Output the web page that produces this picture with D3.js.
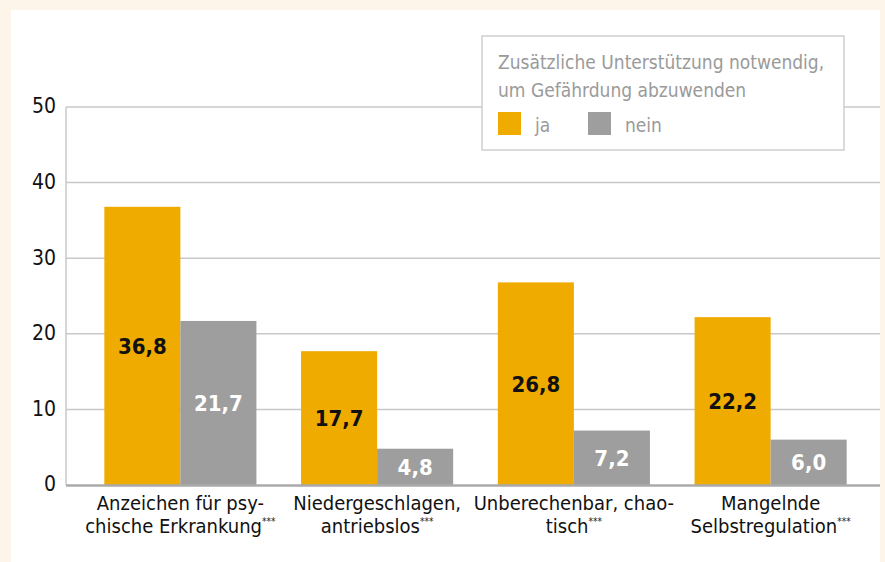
<!DOCTYPE html>
<html>
<head>
<meta charset="utf-8">
<script src="https://cdn.jsdelivr.net/npm/d3@7"></script>
<style>
  body { margin: 0; background: #fdf5e9; }
  svg text { font-family: "Liberation Sans Narrow", "DejaVu Sans Condensed", "Roboto", sans-serif; font-stretch: condensed; }
</style>
</head>
<body>
<div id="chart"></div>
<script>
// categories (each one split in two lines as in the print)
const categories = [
  ["Anzeichen für psy-", "chische Erkrankung"],
  ["Niedergeschlagen,", "antriebslos"],
  ["Unberechenbar, chao-", "tisch"],
  ["Mangelnde", "Selbstregulation"]
];
const series = ["ja", "nein"];
const valuesJa = [36.8, 17.7, 26.8, 22.2];
const valuesNein = [21.7, 4.8, 7.2, 6.0];
const yTicks = [0, 10, 20, 30, 40, 50];
const legendTitle = ["Zusätzliche Unterstützung notwendig,", "um Gefährdung abzuwenden"];

const colors = { ja: "#f0ab00", nein: "#9d9e9d" };

const W = 885, H = 562;
const svg = d3.select("#chart").append("svg")
  .attr("width", W).attr("height", H);

// white panel
svg.append("rect")
  .attr("x", 11).attr("y", 10)
  .attr("width", 869).attr("height", H - 10)
  .attr("fill", "#fff");

const y = d3.scaleLinear().domain([0, 50]).range([485, 107]);

const x0 = d3.scaleBand()
  .domain(d3.range(categories.length))
  .range([82, 869])
  .paddingInner(0.227)
  .paddingOuter(0.1135);

const x1 = d3.scaleBand()
  .domain(series)
  .range([0, x0.bandwidth()]);

// grid lines
svg.append("g")
  .selectAll("line")
  .data(yTicks.filter(d => d > 0))
  .enter().append("line")
  .attr("x1", 66).attr("x2", 880)
  .attr("y1", d => y(d)).attr("y2", d => y(d))
  .attr("stroke", "#c8c8c8")
  .attr("stroke-width", 1.5);

// y axis line
svg.append("line")
  .attr("x1", 66).attr("x2", 66)
  .attr("y1", y(50)).attr("y2", y(0))
  .attr("stroke", "#c8c8c8")
  .attr("stroke-width", 1.5);

// tick labels
svg.append("g")
  .selectAll("text")
  .data(yTicks)
  .enter().append("text")
  .attr("x", 56)
  .attr("y", d => y(d))
  .attr("dy", "0.3em")
  .attr("text-anchor", "end")
  .style("font-size", "21px")
  .attr("fill", "#111")
  .text(d => d);

// bars
const rows = categories.map((c, i) => ({ i: i, ja: valuesJa[i], nein: valuesNein[i] }));

const groups = svg.selectAll(".group")
  .data(rows)
  .enter().append("g")
  .attr("class", "group")
  .attr("transform", d => "translate(" + x0(d.i) + ",0)");

const cells = groups.selectAll(".cell")
  .data(d => series.map(s => ({ key: s, value: d[s] })))
  .enter().append("g")
  .attr("class", "cell");

cells.append("rect")
  .attr("x", d => x1(d.key))
  .attr("y", d => y(d.value))
  .attr("width", x1.bandwidth())
  .attr("height", d => y(0) - y(d.value))
  .attr("fill", d => colors[d.key]);

cells.append("text")
  .attr("x", d => x1(d.key) + x1.bandwidth() / 2)
  .attr("y", d => (y(d.value) + y(0)) / 2)
  .attr("dy", "0.36em")
  .attr("text-anchor", "middle")
  .style("font-size", "22px")
  .style("font-weight", "bold")
  .attr("fill", d => d.key === "ja" ? "#111" : "#fff")
  .text(d => d.value.toFixed(1).replace(".", ","));

// baseline
svg.append("line")
  .attr("x1", 66).attr("x2", 880)
  .attr("y1", y(0) + 0.5).attr("y2", y(0) + 0.5)
  .attr("stroke", "#aaaaaa")
  .attr("stroke-width", 2.5);

// category labels
const catLabels = svg.append("g")
  .selectAll("text")
  .data(categories)
  .enter().append("text")
  .attr("text-anchor", "middle")
  .style("font-size", "20px")
  .attr("fill", "#111");

catLabels.each(function(lines, i) {
  const t = d3.select(this);
  const cx = x0(i) + x0.bandwidth() / 2;
  lines.forEach(function(line, j) {
    t.append("tspan")
      .attr("x", cx)
      .attr("y", 510 + j * 23)
      .text(line);
    if (j === 1) {
      t.append("tspan")
        .attr("dy", -8)
        .style("font-size", "10px")
        .attr("fill", "#222")
        .text("***");
    }
  });
});

// legend
const lg = svg.append("g").attr("transform", "translate(482,36)");
lg.append("rect")
  .attr("width", 362).attr("height", 114)
  .attr("fill", "#fff")
  .attr("stroke", "#cfcfcf")
  .attr("stroke-width", 1.5);

lg.selectAll(".lt")
  .data(legendTitle)
  .enter().append("text")
  .attr("class", "lt")
  .attr("x", 16)
  .attr("y", (d, i) => 33 + i * 28)
  .style("font-size", "19px")
  .attr("fill", "#9a9a9a")
  .text(d => d);

const items = lg.selectAll(".li")
  .data(series)
  .enter().append("g")
  .attr("class", "li")
  .attr("transform", (d, i) => "translate(" + (16 + i * 90) + ",76)");

items.append("rect")
  .attr("width", 23).attr("height", 23)
  .attr("fill", d => colors[d]);

items.append("text")
  .attr("x", 37)
  .attr("y", 20)
  .style("font-size", "19px")
  .attr("fill", "#9a9a9a")
  .text(d => d);
</script>
</body>
</html>
